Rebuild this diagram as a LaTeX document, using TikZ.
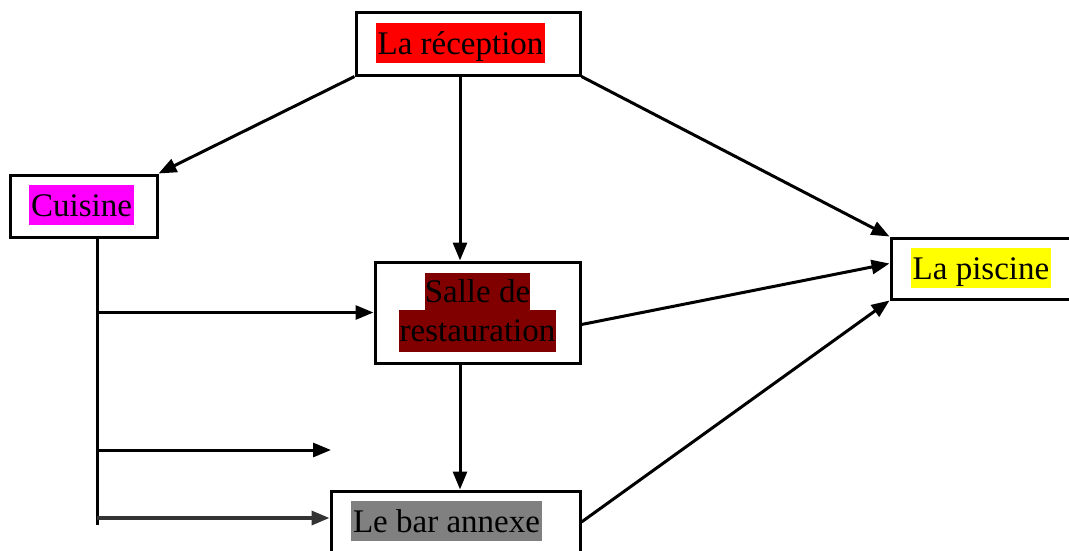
\documentclass[tikz,border=0pt]{standalone}
\usepackage{fontspec}
\setmainfont{Liberation Serif}
\usetikzlibrary{arrows.meta,calc}
\definecolor{hlmagenta}{RGB}{255,0,255}
\definecolor{hlyellow}{RGB}{255,255,0}
\definecolor{hlred}{RGB}{255,0,0}
\definecolor{hlmaroon}{RGB}{128,0,0}
\definecolor{hlgray}{RGB}{128,128,128}
\begin{document}
\begin{tikzpicture}[x=1pt,y=-1pt,
  box/.style={draw=black,line width=3pt,fill=white,inner sep=0pt},
  hl/.style={inner xsep=2pt,inner ysep=0pt,text height=31pt,text depth=9pt,font=\fontsize{33}{37}\selectfont},
  link/.style={line width=3pt,-{Triangle[length=18pt,width=14pt]}},
  plain/.style={line width=3pt}]
\useasboundingbox (0,0) rectangle (1069,550);
% boxes
\node[box,minimum width=224pt,minimum height=63pt] (reception) at (468,43.5) {};
\node[hl,fill=hlred] (receptiontxt) at (460.5,43) {La réception};
\node[box,minimum width=147pt,minimum height=62pt] (cuisine) at (83.5,206) {};
\node[hl,fill=hlmagenta] (cuisinetxt) at (81.5,205) {Cuisine};
\node[box,minimum width=205pt,minimum height=101pt] (salle) at (477.5,312.5) {};
\node[inner sep=0pt,fill=hlmaroon,minimum width=105pt,minimum height=37pt] (salleA) at (477.5,291.5) {};
\node[inner sep=0pt,fill=hlmaroon,minimum width=157pt,minimum height=42pt] (salleB) at (477.5,331) {};
\node[font=\fontsize{33}{37}\selectfont,inner sep=0pt,anchor=base] (salletxtA) at (477.5,302) {Salle de};
\node[font=\fontsize{33}{37}\selectfont,inner sep=0pt,anchor=base] (salletxtB) at (477.5,341) {restauration};
\node[box,minimum width=184pt,minimum height=61pt] (piscine) at (983,268.5) {};
\node[hl,fill=hlyellow] (piscinetxt) at (981,268) {La piscine};
\node[box,minimum width=249pt,minimum height=62pt] (bar) at (455.5,522) {};
\node[hl,fill=hlgray] (bartxt) at (446.5,521) {Le bar annexe};
% helper coordinates
\coordinate (vx) at (460,0);
\coordinate (trunk) at (97,0);
\coordinate (trunkend) at (97,525);
\coordinate (loose) at (331,450);
% connectors
\draw[link] (reception.south west) -- (cuisine.north east);
\draw[link] (reception.south -| vx) -- (salle.north -| vx);
\draw[link] (reception.south east) -- (piscine.north west);
\draw[link] ($(salle.east)+(0,12)$) -- ($(piscine.west)+(0,-5)$);
\draw[link] (salle.south -| vx) -- (bar.north -| vx);
\draw[link] (bar.east) -- (piscine.south west);
\draw[plain] (cuisine.south -| trunk) -- (trunkend);
\draw[link] (salle.west -| trunk) -- (salle.west);
\draw[link] (loose -| trunk) -- (loose);
\draw[link,line width=3.5pt,black!80] ($(bar.west -| trunk)+(0,-4)$) -- ($(bar.west)+(0,-4)$);
\end{tikzpicture}
\end{document}
